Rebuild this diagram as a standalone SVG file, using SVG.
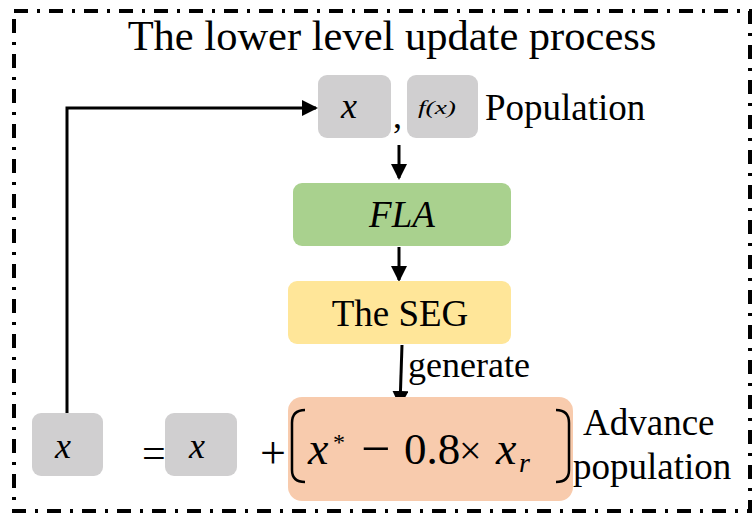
<svg xmlns="http://www.w3.org/2000/svg" width="752" height="517" viewBox="0 0 752 517">
<style>
.t{font-family:"Liberation Serif","Times New Roman",serif;fill:#000}
.m{font-family:"Liberation Serif","DejaVu Serif",serif;font-style:italic;fill:#000}
.gray{fill:#d0cfd0}
.ln{stroke:#000;stroke-width:3;fill:none}
</style>
<defs>
<marker id="ahb" markerWidth="16" markerHeight="16" refX="14" refY="8" orient="auto" markerUnits="userSpaceOnUse" viewBox="0 0 16 16">
<path d="M0,0 L16,8 L0,16 z" fill="#000"/>
</marker>
</defs>
<rect x="14" y="11" width="736" height="500" fill="none" stroke="#000" stroke-width="4" stroke-dasharray="14 9 3 9"/>
<text class="t" x="392" y="50" font-size="42.5" text-anchor="middle">The lower level update process</text>

<g id="connectors">
<path class="ln" d="M67,413 V108 H316" marker-end="url(#ahb)"/>
<path class="ln" d="M399,145 V178" marker-end="url(#ahb)"/>
<path class="ln" d="M399,247 V280" marker-end="url(#ahb)"/>
<path class="ln" d="M402,345 L400,405" marker-end="url(#ahb)"/>
<text class="t" x="408" y="377" font-size="36">generate</text>
</g>

<g id="pop-x">
<rect class="gray" x="318" y="75" width="73" height="63" rx="9"/>
<text class="m" x="349" y="118" font-size="36" text-anchor="middle">x</text>
</g>
<text class="t" x="393" y="128" font-size="36">,</text>
<g id="pop-fx">
<rect class="gray" x="407" y="75" width="71" height="63" rx="9"/>
<text class="m" x="418" y="114" font-size="19" textLength="38" lengthAdjust="spacingAndGlyphs">f(x)</text>
</g>
<text class="t" x="485" y="120" font-size="37">Population</text>

<g id="fla">
<rect x="293" y="183" width="218" height="63" rx="9" fill="#a9d18e"/>
<text class="t" x="402" y="227" font-size="37" font-style="italic" text-anchor="middle">FLA</text>
</g>

<g id="seg">
<rect x="288" y="281" width="223" height="63" rx="9" fill="#ffe699"/>
<text class="t" x="400" y="326" font-size="37" text-anchor="middle">The SEG</text>
</g>

<g id="advance">
<rect x="288" y="397" width="285" height="104" rx="14" fill="#f8cbad"/>
<path d="M305,410 Q292,410 292,423 V470 Q292,482 305,482" fill="none" stroke="#000" stroke-width="2.5"/>
<path d="M556,410 Q569,410 569,423 V470 Q569,482 556,482" fill="none" stroke="#000" stroke-width="2.5"/>
<text class="m" x="308" y="464" font-size="46">x</text>
<text class="t" x="333" y="450" font-size="24">*</text>
<text class="t" x="361" y="466" font-size="52">−</text>
<text class="t" x="404" y="464" font-size="45">0.8</text>
<text class="t" x="459" y="464" font-size="40">×</text>
<text class="m" x="496" y="464" font-size="46">x</text>
<text class="m" x="519" y="472" font-size="28">r</text>
</g>
<text class="t" x="583" y="435" font-size="37">Advance</text>
<text class="t" x="573" y="479" font-size="37">population</text>

<g id="new-x">
<rect class="gray" x="32" y="413" width="71" height="63" rx="9"/>
<text class="m" x="63" y="458" font-size="36" text-anchor="middle">x</text>
</g>
<text class="t" x="142" y="467" font-size="42">=</text>
<g id="old-x">
<rect class="gray" x="165" y="413" width="72" height="63" rx="9"/>
<text class="m" x="197" y="458" font-size="36" text-anchor="middle">x</text>
</g>
<text class="t" x="260" y="468" font-size="46">+</text>
</svg>
